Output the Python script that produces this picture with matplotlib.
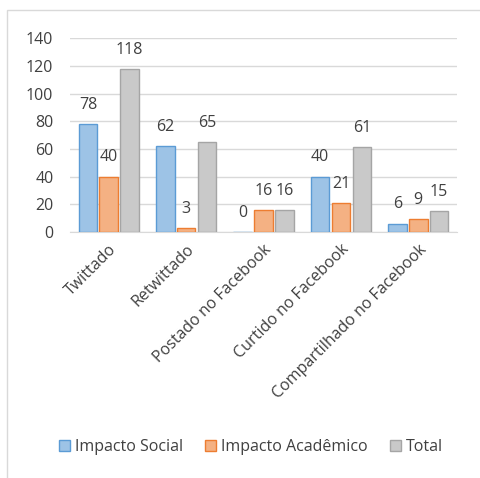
import numpy as np
import matplotlib.pyplot as plt
from matplotlib.patches import Rectangle

# Dados
categorias = ["Twittado", "Retwittado", "Postado no Facebook",
              "Curtido no Facebook", "Compartilhado no Facebook"]
impacto_social = [78, 62, 0, 40, 6]
impacto_academico = [40, 3, 16, 21, 9]
total = [118, 65, 16, 61, 15]
series_nomes = ["Impacto Social", "Impacto Acadêmico", "Total"]

plt.rcParams['font.family'] = ['Open Sans', 'DejaVu Sans']
fs = 11.5

fig = plt.figure(figsize=(4.8, 4.78), dpi=100)
ax = fig.add_axes([0.146, 0.515, 0.806, 0.405])

# moldura do grafico (so esquerda e topo visiveis)
fig.patches.append(Rectangle((7 / 480, -0.1), 1.2, 1 - 10 / 478 + 0.1,
                             transform=fig.transFigure, fill=False,
                             edgecolor='#d9d9d9', linewidth=1))

x = np.arange(len(categorias))
largura = 0.24
passo = 0.27
cores = ['#9dc3e6', '#f4b183', '#c9c9c9']
bordas = ['#5b9bd5', '#ed7d31', '#a5a5a5']

for i, (vals, nome) in enumerate(zip([impacto_social, impacto_academico, total], series_nomes)):
    pos = x + (i - 1) * passo
    ax.bar(pos, vals, width=largura, color=cores[i], edgecolor=bordas[i],
           linewidth=1, label=nome, zorder=3)
    for p, v in zip(pos, vals):
        ax.annotate(str(v), (p, v), xytext=(0, 8), textcoords='offset points',
                    ha='center', va='bottom', fontsize=fs, color='#404040')

ax.set_ylim(0, 140)
ax.set_yticks(range(0, 141, 20))
ax.set_xlim(-0.5, len(categorias) - 0.5)
ax.yaxis.grid(True, color='#d9d9d9', linewidth=1, zorder=0)
ax.set_axisbelow(True)
for s in ['top', 'right', 'left']:
    ax.spines[s].set_visible(False)
ax.spines['bottom'].set_color('#d9d9d9')
ax.tick_params(axis='both', length=0, labelsize=fs, labelcolor='#404040')
ax.tick_params(axis='y', pad=12)
ax.tick_params(axis='x', pad=7)
ax.set_xticks(x)
ax.set_xticklabels(categorias, rotation=45, ha='right', rotation_mode='anchor')

fig.legend(loc='center', bbox_to_anchor=(0.523, 0.065), ncol=3, frameon=False,
           fontsize=fs, handlelength=0.7, handleheight=0.7, handletextpad=0.3,
           columnspacing=1.4, labelcolor='#404040')

fig.savefig("out.png", dpi=100)
